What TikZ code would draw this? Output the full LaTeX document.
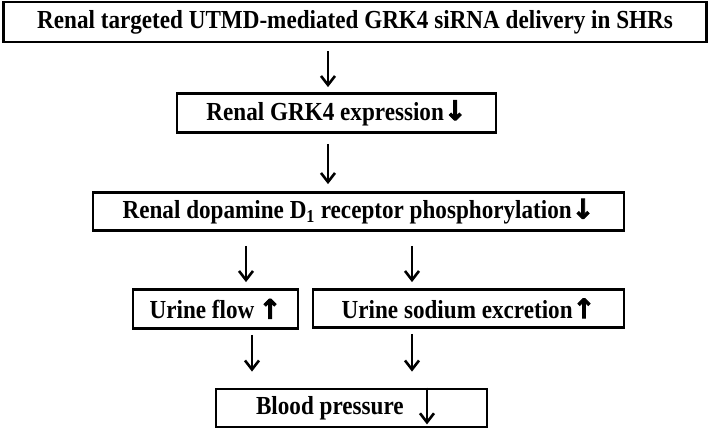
\documentclass[tikz,border=0pt]{standalone}
\usepackage{fontspec}
\setmainfont{Liberation Serif}[FakeStretch=0.89]
\newfontfamily\arrowfont{DejaVu Sans}[FakeBold=3]
\usetikzlibrary{arrows.meta}
\newcommand{\dn}{{\arrowfont\bfseries\fontsize{27}{28}\selectfont ↓}}
\newcommand{\up}{{\arrowfont\bfseries\fontsize{27}{28}\selectfont ↑}}

\begin{document}
\begin{tikzpicture}[x=1pt, y=1pt,
        box/.style={draw, line width=2.8pt, inner sep=0pt, align=center,
                    font=\fontsize{26}{30}\selectfont\bfseries},
        flow/.style={line width=2.4pt, -{Straight Barb[length=9pt, width=14pt, line width=2.6pt]}}]
        \useasboundingbox (0,0) rectangle (709,-430);

        % Riquadri della cascata
        \node[box, minimum width=703pt, minimum height=40pt] (utmd) at (355,-22) {Renal targeted UTMD-mediated GRK4 siRNA delivery in SHRs};
        \node[box, minimum width=319pt, minimum height=39pt] (grk) at (336.5,-113) {Renal GRK4 expression\dn};
        \node[box, minimum width=531pt, minimum height=38pt] (dopa) at (358.5,-211.5) {Renal dopamine D\textsubscript{1} receptor phosphorylation\dn};
        \node[box, minimum width=165pt, minimum height=39pt] (urine) at (215.5,-309) {Urine flow\,\up};
        \node[box, minimum width=311pt, minimum height=38pt] (sodium) at (468.5,-308.5) {Urine sodium excretion\up};
        \node[box, minimum width=271pt, minimum height=38pt, text width=271pt, align=flush left] (bp) at (351.5,-408) {\hspace*{40pt}Blood pressure};

        % Frecce tra i riquadri
        \draw[flow, shorten <=8pt, shorten >=5pt] ([xshift=-27pt]utmd.south) -- ([xshift=-27pt]utmd.south |- grk.north);
        \draw[flow, shorten <=10pt, shorten >=7pt] ([xshift=-8.5pt]grk.south) -- ([xshift=-8.5pt]grk.south |- dopa.north);
        \draw[flow, shorten <=14pt, shorten >=6pt] ([xshift=30.5pt]urine.north |- dopa.south) -- ([xshift=30.5pt]urine.north);
        \draw[flow, shorten <=14pt, shorten >=6pt] ([xshift=-56.5pt]sodium.north |- dopa.south) -- ([xshift=-56.5pt]sodium.north);
        \draw[flow, shorten <=5pt, shorten >=16pt] ([xshift=36.5pt]urine.south) -- ([xshift=36.5pt]urine.south |- bp.north);
        \draw[flow, shorten <=5pt, shorten >=16pt] ([xshift=-56.5pt]sodium.south) -- ([xshift=-56.5pt]sodium.south |- bp.north);

        % Freccia di calo della pressione
        \draw[flow, line width=2pt, shorten >=4pt] ([xshift=75.5pt]bp.north) -- ([xshift=75.5pt]bp.south);

    \end{tikzpicture}
\end{document}
